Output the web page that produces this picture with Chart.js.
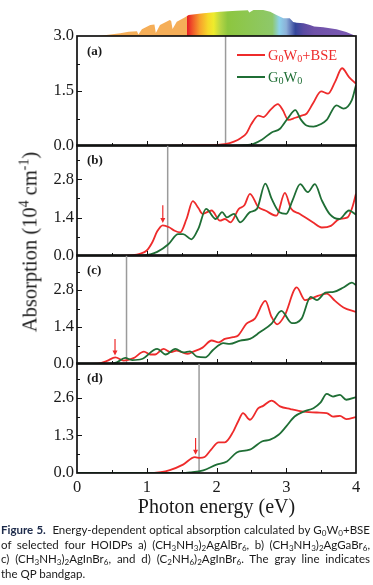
<!DOCTYPE html>
<html>
<head>
<meta charset="utf-8">
<script src="https://cdn.jsdelivr.net/npm/chart.js@4.4.1/dist/chart.umd.min.js"></script>
<style>
  html, body { margin: 0; padding: 0; background: #fff; }
  #fig { position: relative; width: 373px; height: 585px; overflow: hidden; font-family: 'Liberation Serif', serif; color: #1a1a1a; }
  #fig canvas { position: absolute; left: 0; }
  .ytitle { position: absolute; left: 30px; top: 242px; transform: translate(-50%, -50%) rotate(-90deg); font-size: 20.5px; white-space: nowrap; }
  .ytitle sup { font-size: 0.68em; line-height: 0; vertical-align: 0.6em; }
  .legline { position: absolute; left: 237px; width: 28px; height: 0; border-top: 2px solid; }
  .legtxt { position: absolute; left: 268px; font-size: 14.5px; line-height: 1; white-space: nowrap; transform: translateY(-50%); }
  .legtxt sub, .cap sub { font-size: 0.7em; line-height: 0; vertical-align: -0.25em; }
  .cap { position: absolute; left: 1px; width: 369px; font-family: Lato, 'Noto Sans', sans-serif; font-size: 11.5px; line-height: 14.5px; white-space: nowrap; color: #1a1a1a; }
  .cap b { color: #1c2a4a; }
  .cap.j { text-align: justify; text-align-last: justify; }
</style>
</head>
<body>
<div id="fig">
  <canvas id="spec" width="373" height="37" style="top:0"></canvas>
  <canvas id="pa" width="373" height="129" style="top:26px"></canvas>
  <canvas id="pb" width="373" height="130" style="top:135px"></canvas>
  <canvas id="pc" width="373" height="128" style="top:245px"></canvas>
  <canvas id="pd" width="373" height="167" style="top:353px"></canvas>

  <div class="ytitle">Absorption (10<sup>4</sup> cm<sup>-1</sup>)</div>

  <div class="legline" style="top:54px; border-color:#ee2b2b"></div>
  <div class="legtxt" style="top:55px; color:#ee2b2b">G<sub>0</sub>W<sub>0</sub>+BSE</div>
  <div class="legline" style="top:76px; border-color:#1f6e35"></div>
  <div class="legtxt" style="top:77px; color:#1f6e35">G<sub>0</sub>W<sub>0</sub></div>

  <div class="cap j" style="top:523px"><b>Figure 5.</b>&nbsp; Energy-dependent optical absorption calculated by G<sub>0</sub>W<sub>0</sub>+BSE</div>
  <div class="cap j" style="top:537.5px">of selected four HOIDPs a) (CH<sub>3</sub>NH<sub>3</sub>)<sub>2</sub>AgAlBr<sub>6</sub>, b) (CH<sub>3</sub>NH<sub>3</sub>)<sub>2</sub>AgGaBr<sub>6</sub>,</div>
  <div class="cap j" style="top:552px">c) (CH<sub>3</sub>NH<sub>3</sub>)<sub>2</sub>AgInBr<sub>6</sub>, and d) (C<sub>2</sub>NH<sub>6</sub>)<sub>2</sub>AgInBr<sub>6</sub>. The gray line indicates</div>
  <div class="cap" style="top:566.5px">the QP bandgap.</div>
</div>

<script>
// solar spectrum silhouette (height in px above the frame)
const specE = [0.30, 0.45, 0.62, 0.74, 0.86, 0.88, 0.93, 1.05, 1.11, 1.13, 1.19, 1.33, 1.35, 1.37, 1.43, 1.55, 1.60, 1.81, 2.05, 2.29, 2.45, 2.47, 2.53, 2.67, 2.77, 2.86, 2.96, 3.05, 3.10, 3.15, 3.25, 3.34, 3.40, 3.53, 3.72, 3.86, 3.98];
const specH = [0, 1.2, 2.7, 4.3, 4.8, 1.5, 6.7, 11, 11.5, 3, 11, 16, 15, 7, 14.3, 18.7, 21, 22.7, 24.3, 25.3, 25.8, 23.5, 26, 26, 24.3, 21, 17.7, 17.7, 14, 13.3, 12.7, 11, 9.5, 8.7, 6.7, 4, 0.5];

// (a) (CH3NH3)2AgAlBr6
const aRedE = [0, 1.0, 1.5, 1.8, 2.0, 2.12, 2.25, 2.35, 2.43, 2.5, 2.6, 2.67, 2.78, 2.88, 2.95, 3.03, 3.13, 3.22, 3.29, 3.38, 3.5, 3.6, 3.7, 3.8, 3.9, 4.0];
const aRedY = [0, 0, 0.01, 0.02, 0.03, 0.05, 0.12, 0.22, 0.35, 0.6, 0.83, 0.79, 1.0, 1.14, 0.98, 0.71, 0.77, 0.83, 0.88, 1.15, 1.49, 1.43, 1.75, 2.12, 1.88, 1.70];
const aGreenE = [0, 2.2, 2.4, 2.53, 2.65, 2.79, 2.91, 3.02, 3.13, 3.21, 3.29, 3.39, 3.5, 3.58, 3.72, 3.82, 3.94, 4.0];
const aGreenY = [0, 0, 0.02, 0.06, 0.17, 0.37, 0.47, 0.75, 0.98, 0.72, 0.56, 0.53, 0.6, 0.71, 1.11, 1.02, 1.25, 1.66];

// (b) (CH3NH3)2AgGaBr6
const bRedE = [0, 0.6, 0.8, 0.9, 1.0, 1.08, 1.15, 1.23, 1.32, 1.4, 1.48, 1.57, 1.66, 1.74, 1.8, 1.93, 2.05, 2.12, 2.2, 2.32, 2.4, 2.48, 2.6, 2.7, 2.86, 2.98, 3.07, 3.19, 3.38, 3.51, 3.64, 3.76, 3.88, 3.95, 4.0];
const bRedY = [0, 0, 0.03, 0.08, 0.2, 0.5, 0.9, 1.12, 1.05, 0.92, 0.86, 1.35, 2.0, 1.75, 1.54, 1.66, 1.29, 1.35, 1.23, 1.72, 1.85, 2.27, 1.78, 1.66, 1.47, 2.3, 1.72, 1.54, 1.23, 1.04, 1.1, 1.35, 1.41, 1.8, 2.27];
const bGreenE = [0, 0.8, 0.95, 1.05, 1.15, 1.31, 1.45, 1.52, 1.64, 1.74, 1.85, 1.99, 2.08, 2.15, 2.25, 2.34, 2.48, 2.58, 2.7, 2.79, 2.9, 3.0, 3.09, 3.2, 3.31, 3.41, 3.51, 3.62, 3.76, 3.9, 4.0];
const bGreenY = [0, 0, 0.02, 0.06, 0.15, 0.43, 0.8, 0.8, 0.61, 1.0, 1.72, 1.35, 1.6, 1.41, 1.54, 1.23, 1.6, 1.72, 2.64, 2.09, 1.6, 1.54, 2.03, 2.62, 2.33, 2.62, 2.03, 1.54, 1.35, 1.66, 1.51];

// (c) (CH3NH3)2AgInBr6
const cRedE = [0, 0.3, 0.43, 0.55, 0.67, 0.81, 0.96, 1.05, 1.12, 1.24, 1.34, 1.43, 1.58, 1.67, 1.8, 1.93, 2.03, 2.12, 2.24, 2.31, 2.43, 2.55, 2.7, 2.79, 2.87, 2.98, 3.15, 3.27, 3.39, 3.58, 3.7, 3.82, 4.0];
const cRedY = [0, 0.01, 0.12, 0.25, 0.13, 0.22, 0.47, 0.36, 0.36, 0.57, 0.45, 0.51, 0.38, 0.47, 0.62, 0.89, 0.82, 0.95, 1.02, 1.08, 1.53, 1.72, 2.39, 1.78, 1.5, 1.85, 2.9, 2.42, 2.52, 2.67, 2.39, 2.14, 1.97];
const cGreenE = [0, 0.45, 0.57, 0.69, 0.79, 0.93, 1.15, 1.27, 1.41, 1.53, 1.62, 1.72, 1.84, 1.95, 2.1, 2.19, 2.34, 2.48, 2.62, 2.79, 2.93, 3.08, 3.22, 3.35, 3.44, 3.56, 3.68, 3.82, 3.94, 4.0];
const cGreenY = [0, 0, 0.06, 0.23, 0.15, 0.19, 0.57, 0.36, 0.57, 0.44, 0.48, 0.28, 0.25, 0.53, 0.79, 0.76, 0.89, 0.95, 1.2, 1.53, 2.01, 1.55, 1.72, 2.54, 2.42, 2.7, 2.73, 2.9, 3.08, 2.99];

// (d) (C2NH6)2AgInBr6
const dRedE = [0, 1.0, 1.2, 1.33, 1.52, 1.69, 1.76, 1.83, 1.92, 2.03, 2.12, 2.24, 2.31, 2.38, 2.48, 2.6, 2.67, 2.79, 2.91, 3.06, 3.25, 3.44, 3.58, 3.67, 3.77, 3.86, 4.0];
const dRedY = [0, 0, 0.03, 0.1, 0.29, 0.55, 0.52, 0.55, 0.8, 1.06, 1.06, 1.43, 1.78, 2.07, 1.84, 2.24, 2.32, 2.5, 2.3, 2.21, 2.12, 2.09, 2.07, 1.95, 1.97, 1.86, 1.93];
const dGreenE = [0, 1.5, 1.62, 1.81, 2.0, 2.15, 2.29, 2.43, 2.5, 2.65, 2.77, 2.89, 3.0, 3.12, 3.25, 3.39, 3.49, 3.58, 3.67, 3.77, 3.86, 4.0];
const dGreenY = [0, 0, 0.02, 0.09, 0.29, 0.4, 0.71, 0.78, 0.83, 1.09, 1.15, 1.32, 1.61, 1.95, 2.12, 2.24, 2.43, 2.73, 2.64, 2.7, 2.53, 2.62];

// y tick labels of each panel
const aTicks = [0, 1.5, 3.0];
const bTicks = [0, 1.4, 2.8];
const cTicks = [0, 1.4, 2.8];
const dTicks = [0, 1.3, 2.6];
const xTicks = [0, 1, 2, 3, 4];

// QP bandgap (gray line) and exciton arrows [energy, from, to]
const bandgaps = [2.13, 1.30, 0.71, 1.75];
const bArrow = [1.23, 1.85, 1.2];
const cArrow = [0.545, 0.95, 0.32];
const dArrow = [1.70, 1.21, 0.63];

const RED = '#ee2b2b';
const GREEN = '#1f6e35';
const INK = '#1a1a1a';
Chart.defaults.font.family = "'Liberation Serif', serif";
Chart.defaults.color = INK;

const toPoints = (xs, ys) => xs.map((x, i) => ({ x: x, y: ys[i] }));

// frame, inward ticks, bandgap line, arrow, panel label
const decor = {
  id: 'decor',
  beforeDatasetsDraw(chart, args, o) {
    const { ctx, chartArea: { top, bottom }, scales: { x } } = chart;
    const px = x.getPixelForValue(o.gap);
    ctx.save();
    ctx.strokeStyle = '#9b9b9b';
    ctx.lineWidth = 1.5;
    ctx.beginPath();
    ctx.moveTo(px, top);
    ctx.lineTo(px, bottom);
    ctx.stroke();
    ctx.restore();
  },
  afterDatasetsDraw(chart, args, o) {
    if (!o.arrow) return;
    const { ctx, scales: { x, y } } = chart;
    const ax = x.getPixelForValue(o.arrow[0]);
    const y0 = y.getPixelForValue(o.arrow[1]);
    const y1 = y.getPixelForValue(o.arrow[2]);
    ctx.save();
    ctx.strokeStyle = RED;
    ctx.fillStyle = RED;
    ctx.lineWidth = 1.2;
    ctx.beginPath();
    ctx.moveTo(ax, y0);
    ctx.lineTo(ax, y1 - 4);
    ctx.stroke();
    ctx.beginPath();
    ctx.moveTo(ax - 2.5, y1 - 5);
    ctx.lineTo(ax + 2.5, y1 - 5);
    ctx.lineTo(ax, y1);
    ctx.closePath();
    ctx.fill();
    ctx.restore();
  },
  afterDraw(chart, args, o) {
    const { ctx, chartArea: { left, right, top, bottom }, scales: { x, y } } = chart;
    ctx.save();
    ctx.strokeStyle = '#111';
    ctx.lineWidth = 1;
    ctx.beginPath();
    for (let e = 0.5; e < 4; e += 0.5) {
      const px = Math.round(x.getPixelForValue(e)) + 0.5;
      const len = Number.isInteger(e) ? 5 : 3;
      ctx.moveTo(px, bottom);
      ctx.lineTo(px, bottom - len);
    }
    const t = o.ticks;
    const step = t[1] - t[0];
    for (let v = step / 2; v < y.max; v += step / 2) {
      const py = Math.round(y.getPixelForValue(v)) + 0.5;
      const major = Math.abs(v / step - Math.round(v / step)) < 1e-6;
      ctx.moveTo(left, py);
      ctx.lineTo(left + (major ? 5 : 3), py);
    }
    ctx.stroke();
    ctx.lineWidth = 1.7;
    ctx.strokeRect(left, top, right - left, bottom - top);
    ctx.fillStyle = INK;
    ctx.font = "bold 13px 'Liberation Serif', serif";
    ctx.textBaseline = 'middle';
    ctx.fillText(o.label, left + 10, top + 16);
    ctx.restore();
  }
};

const panels = [
  { id: 'pa', max: 3.0, ticks: aTicks, label: '(a)', gap: bandgaps[0], arrow: null, red: [aRedE, aRedY], green: [aGreenE, aGreenY] },
  { id: 'pb', max: 4.05, ticks: bTicks, label: '(b)', gap: bandgaps[1], arrow: bArrow, red: [bRedE, bRedY], green: [bGreenE, bGreenY] },
  { id: 'pc', max: 4.13, ticks: cTicks, label: '(c)', gap: bandgaps[2], arrow: cArrow, red: [cRedE, cRedY], green: [cGreenE, cGreenY] },
  { id: 'pd', max: 3.8, ticks: dTicks, label: '(d)', gap: bandgaps[3], arrow: dArrow, red: [dRedE, dRedY], green: [dGreenE, dGreenY] }
];

panels.forEach((p, i) => {
  const last = i === panels.length - 1;
  new Chart(document.getElementById(p.id), {
    type: 'line',
    data: {
      datasets: [
        { label: 'G0W0', data: toPoints(p.green[0], p.green[1]), borderColor: GREEN },
        { label: 'G0W0+BSE', data: toPoints(p.red[0], p.red[1]), borderColor: RED }
      ]
    },
    options: {
      responsive: false,
      animation: false,
      events: [],
      layout: { padding: { left: 0, right: 17, top: 10, bottom: last ? 0 : 9 } },
      elements: {
        point: { radius: 0 },
        line: { borderWidth: 1.8, cubicInterpolationMode: 'monotone', fill: false }
      },
      scales: {
        x: {
          type: 'linear', min: 0, max: 4,
          display: last,
          afterBuildTicks: s => { s.ticks = xTicks.map(v => ({ value: v })); },
          afterFit: s => {
            s.paddingLeft = 0; s.paddingRight = 0;
            if (last) s.height = 47;
          },
          grid: { display: false, drawTicks: false },
          border: { display: false },
          ticks: { font: { size: 16.5 }, padding: 5, color: INK },
          title: { display: true, text: 'Photon energy (eV)', font: { size: 20 }, padding: { top: 0, bottom: 0 }, color: INK }
        },
        y: {
          min: 0, max: p.max,
          afterBuildTicks: s => { s.ticks = p.ticks.map(v => ({ value: v })); },
          afterFit: s => { s.width = 77; s.paddingTop = 0; s.paddingBottom = 0; },
          grid: { display: false, drawTicks: false },
          border: { display: false },
          ticks: { font: { size: 16.5 }, padding: 3, color: INK, callback: v => Number(v).toFixed(1) }
        }
      },
      plugins: {
        legend: { display: false },
        tooltip: { enabled: false },
        decor: { gap: p.gap, arrow: p.arrow, ticks: p.ticks, label: p.label }
      }
    },
    plugins: [decor]
  });
});

// spectrum on top, coloured along the energy axis
const specStops = [
  [0, '#f5ae58'], [1.575, '#f5ae58'], [1.58, '#e61e25'], [1.66, '#f0592a'], [1.76, '#f7a12c'],
  [1.88, '#f6d92a'], [1.96, '#eeeb2c'], [2.06, '#b5d544'], [2.16, '#8dc63f'], [2.8, '#8ec86a'],
  [2.9, '#8dd2ea'], [3.0, '#8cb0d8'], [3.07, '#5f75b8'], [3.13, '#34469b'], [3.25, '#5a4ba2'],
  [3.4, '#6f52a8'], [4.0, '#7d5bb5']
];
new Chart(document.getElementById('spec'), {
  type: 'line',
  data: {
    datasets: [{
      data: toPoints(specE, specH),
      borderWidth: 0,
      pointRadius: 0,
      fill: 'origin',
      backgroundColor: ctx => {
        const { chart } = ctx;
        if (!chart.chartArea) return '#8dc63f';
        const { left, right } = chart.chartArea;
        const g = chart.ctx.createLinearGradient(left, 0, right, 0);
        specStops.forEach(s => g.addColorStop(s[0] / 4, s[1]));
        return g;
      }
    }]
  },
  options: {
    responsive: false,
    animation: false,
    events: [],
    layout: { padding: { left: 77, right: 17, top: 0, bottom: 1 } },
    scales: {
      x: { type: 'linear', min: 0, max: 4, display: false },
      y: { min: 0, max: 36, display: false }
    },
    plugins: { legend: { display: false }, tooltip: { enabled: false } }
  }
});
</script>
</body>
</html>
